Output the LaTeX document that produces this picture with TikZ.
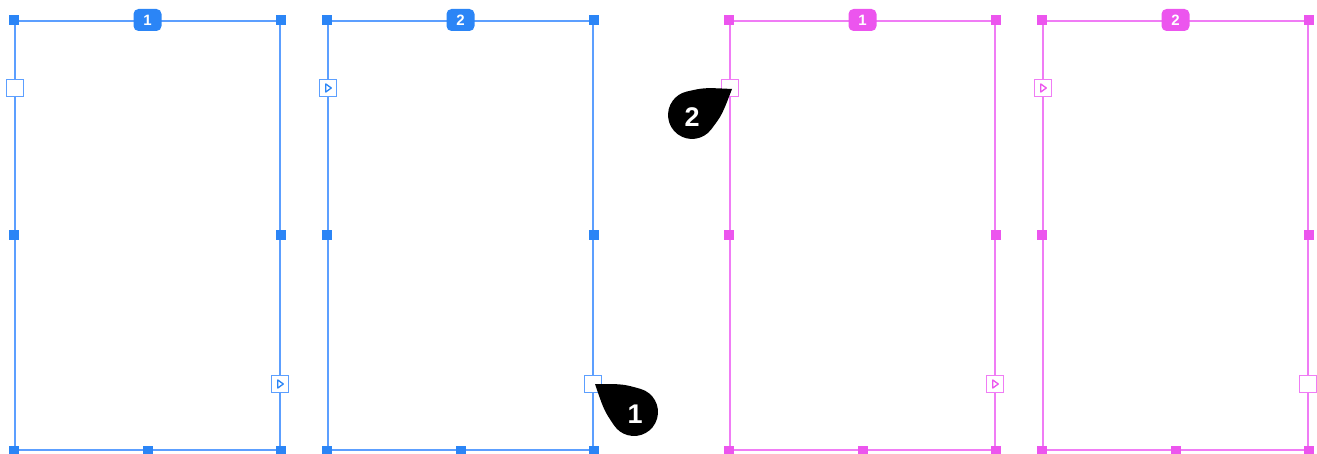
\documentclass[tikz,border=0pt]{standalone}
\usepackage{fontspec}
\setmainfont{Liberation Sans}
\definecolor{bline}{HTML}{5C9FFF}
\definecolor{bdark}{HTML}{2B85F6}
\definecolor{pline}{HTML}{F07CF5}
\definecolor{pdark}{HTML}{EC55EE}
\begin{document}
\begin{tikzpicture}[x=1pt,y=-1pt,
  frame/.style={draw=#1,line width=2pt,rectangle,inner sep=0pt,minimum width=265pt,minimum height=429pt},
  handle/.style={fill=#1,rectangle,inner sep=0pt,minimum size=10pt},
  port/.style={draw=#1,fill=white,line width=1.6pt,rectangle,inner sep=0pt,minimum size=17pt},
  tri/.style={draw=#1,line width=1.3pt,line join=round},
  badge/.style={fill=#1,rounded corners=5pt,inner sep=0pt,minimum width=28pt,minimum height=22pt,text=white,font=\fontsize{15}{15}\selectfont\bfseries},
  callout/.style={fill=black},
  cnum/.style={text=white,font=\fontsize{27}{27}\selectfont\bfseries,inner sep=0pt}]
\useasboundingbox (0,0) rectangle (1317,454);
% ---------- frames ----------
\node[frame=bline] (f1) at (147.5,235.5) {};
\node[frame=bline] (f2) at (460.5,235.5) {};
\node[frame=pline] (f3) at (862.5,235.5) {};
\node[frame=pline] (f4) at (1175.5,235.5) {};
% ---------- handles ----------
\foreach \f/\c in {f1/bdark,f2/bdark,f3/pdark,f4/pdark}{
  \node[handle=\c] (\f nw) at (\f.north west) {};
  \node[handle=\c] (\f ne) at (\f.north east) {};
  \node[handle=\c] (\f w) at (\f.west) {};
  \node[handle=\c] (\f e) at (\f.east) {};
  \node[handle=\c] (\f sw) at (\f.south west) {};
  \node[handle=\c] (\f se) at (\f.south east) {};
  \node[handle=\c] (\f s) at (\f.south) {};
}
% ---------- badges ----------
\node[badge=bdark] (b1) at (f1.north) {1};
\node[badge=bdark] (b2) at (f2.north) {2};
\node[badge=pdark] (b3) at (f3.north) {1};
\node[badge=pdark] (b4) at (f4.north) {2};
% ---------- ports ----------
\node[port=bline] (p1l) at (15,88) {};
\node[port=bline] (p1r) at (280,384) {};
\node[port=bline] (p2l) at (328,88) {};
\node[port=bline] (p2r) at (593,384) {};
\node[port=pline] (p3l) at (730,88) {};
\node[port=pline] (p3r) at (995,384) {};
\node[port=pline] (p4l) at (1043,88) {};
\node[port=pline] (p4r) at (1308,384) {};
\foreach \p/\c in {p1r/bdark,p2l/bdark,p3r/pdark,p4l/pdark}{
  \draw[tri=\c] ([shift={(-2.2,-4)}]\p.center) -- ++(5.5,4) -- ++(-5.5,4) -- cycle;
}
% ---------- callouts ----------
\coordinate (t1) at (595,384);
\fill[callout] (t1) .. controls (623.2,384.0) .. (640.5,388.9)
  arc[start angle=285.7,end angle=505.7,radius=24] .. controls (604.1,410.6) .. (t1);
\node[cnum] (n1) at (635,414) {1};
\coordinate (t2) at (732,89);
\fill[callout] (t2) .. controls (722.0,115.0) .. (711.2,129.4)
  arc[start angle=37,end angle=257,radius=24] .. controls (704.1,87.6) .. (t2);
\node[cnum] (n2) at (692,117) {2};
\end{tikzpicture}
\end{document}
